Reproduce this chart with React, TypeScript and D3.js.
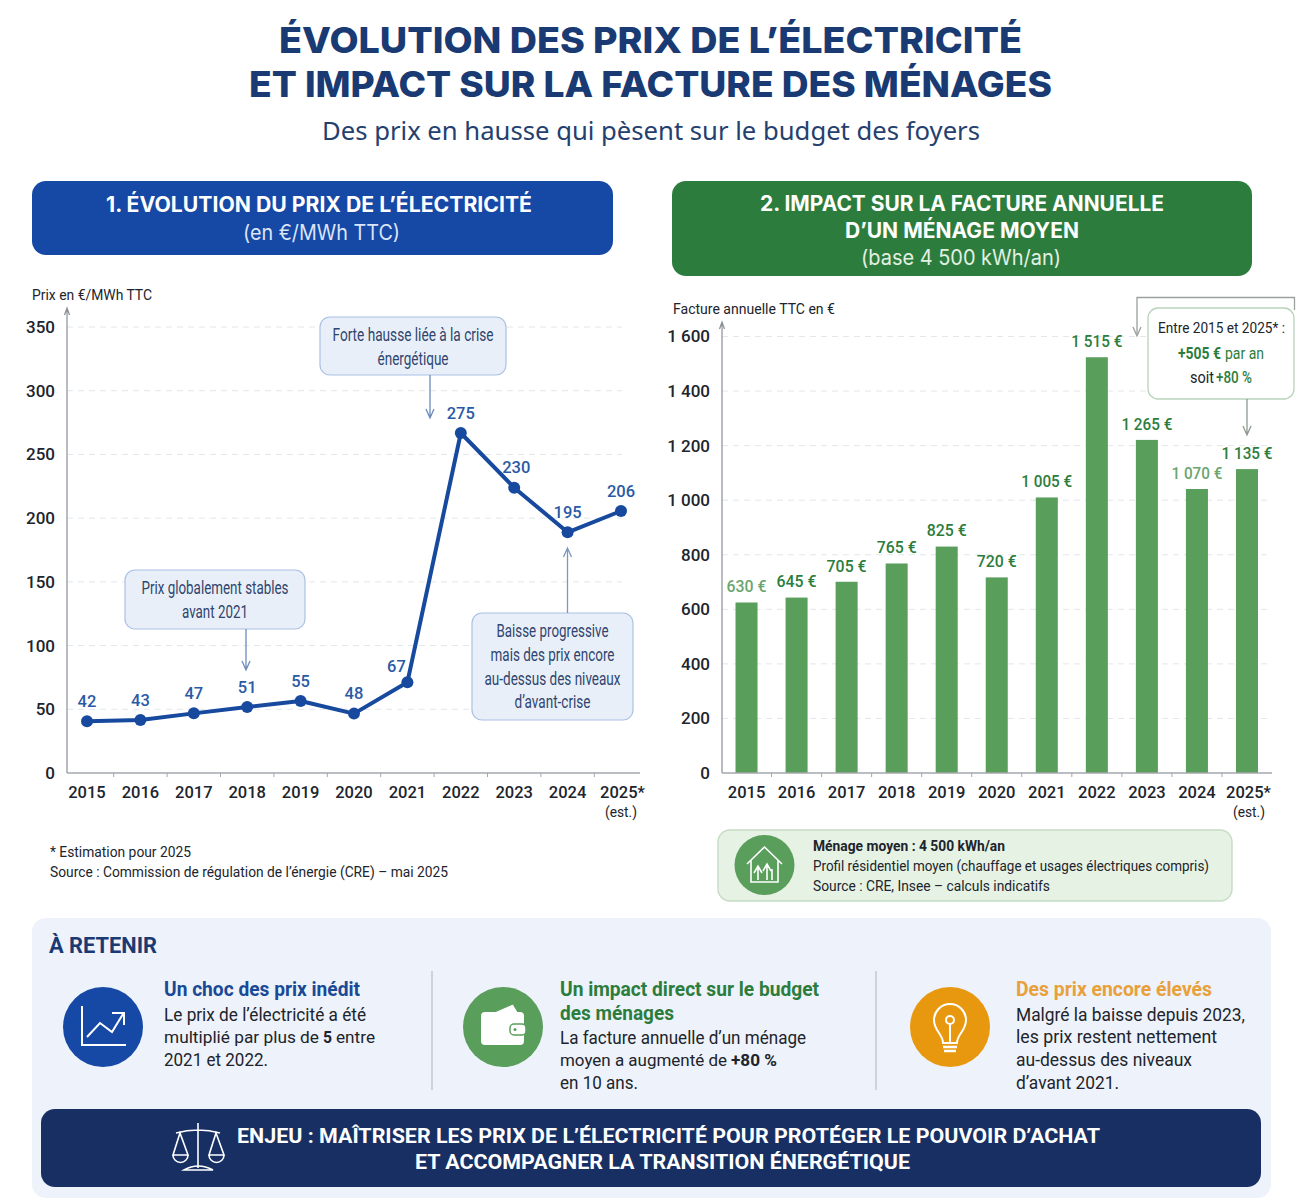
import React, { useEffect, useRef } from "react";
import * as d3 from "d3";

const years = ["2015", "2016", "2017", "2018", "2019", "2020", "2021", "2022", "2023", "2024", "2025*"];
// the marks in the picture do not sit exactly on their printed labels, so both are kept
const priceValues = [40.6, 41.6, 46.8, 51.8, 56.5, 46.6, 71.2, 266.8, 223.9, 188.9, 205.6];
const priceLabels = ["42", "43", "47", "51", "55", "48", "67", "275", "230", "195", "206"];
const priceTicks = [0, 50, 100, 150, 200, 250, 300, 350];
const billValues = [625, 643, 701, 768, 830, 717, 1010, 1524, 1221, 1041, 1114];
const billLabels = ["630 €", "645 €", "705 €", "765 €", "825 €", "720 €", "1 005 €", "1 515 €", "1 265 €", "1 070 €", "1 135 €"];
const billTicks = [0, 200, 400, 600, 800, 1000, 1200, 1400, 1600];

const NAVY = "#1a3a73";
const BLUE = "#1648a5";
const GREEN = "#2c7d3d";
const BAR = "#5a9e5c";
const LINE = "#174a9e";
const BODY = "#20242c";
const SANS = "Roboto, sans-serif";
const HEAD = "Inter, sans-serif";

// text centred vertically on y, squeezed to the width
function T({ x, y, w, size = 18, fill = BODY, weight = 400, anchor = "start", font = SANS, children }: any) {
  return (
    <text
      x={x}
      y={y}
      dy="0.35em"
      fontSize={size}
      fontFamily={font}
      fontWeight={weight}
      fill={fill}
      textAnchor={anchor}
      textLength={w}
      lengthAdjust={w ? "spacingAndGlyphs" : undefined}
    >
      {children}
    </text>
  );
}

function Arrow({ x, y1, y2, color }: any) {
  const dir = y2 > y1 ? -1 : 1;
  return (
    <path
      d={`M${x},${y1}V${y2}M${x - 4},${y2 + dir * 9}L${x},${y2}L${x + 4},${y2 + dir * 9}`}
      fill="none"
      stroke={color}
      strokeWidth={1.3}
    />
  );
}

function Callout({ x, y, w, h, lines, ys }: any) {
  return (
    <g>
      <rect x={x} y={y} width={w} height={h} rx={10} fill="#e9eff8" stroke="#aac1e4" strokeWidth={1.2} />
      {lines.map((l: any, i: number) => (
        <T key={i} x={x + w / 2} y={ys[i]} w={l[1]} anchor="middle" size={17.5} fill="#2f456e">
          {l[0]}
        </T>
      ))}
    </g>
  );
}

function App() {
  const priceAxis = useRef<any>();
  const billAxis = useRef<any>();
  const priceBottom = useRef<any>();
  const billBottom = useRef<any>();

  const xPrice = d3.scalePoint<string>().domain(years).range([87, 621]);
  const yPrice = d3.scaleLinear().domain([0, 350]).range([773, 327]);
  const xBill = d3.scaleBand<string>().domain(years).range([721.5, 1272]).paddingInner(0.56).paddingOuter(0.28);
  const yBill = d3.scaleLinear().domain([0, 1600]).range([773, 336.5]);

  const line = d3
    .line<number>()
    .x((_, i) => xPrice(years[i]) as number)
    .y((v) => yPrice(v));

  useEffect(() => {
    const styleAxis = (g: any) => {
      g.select(".domain").remove();
      g.selectAll("text").attr("font-family", SANS).attr("font-size", 17).attr("font-weight", 500).attr("fill", BODY);
    };
    d3.select(priceAxis.current)
      .call(d3.axisLeft(yPrice).tickValues(priceTicks).tickSize(0).tickPadding(12) as any)
      .call(styleAxis);
    d3.select(billAxis.current)
      .call(
        d3
          .axisLeft(yBill)
          .tickValues(billTicks)
          .tickSize(0)
          .tickPadding(12)
          .tickFormat((d: any) => (d >= 1000 ? `${Math.floor(d / 1000)} ${String(d % 1000).padStart(3, "0")}` : `${d}`)) as any
      )
      .call(styleAxis);
    const bottom = (ref: any, centers: (y: string) => number) => {
      const g = d3.select(ref);
      g.selectAll("*").remove();
      g.selectAll("text")
        .data(years)
        .join("text")
        .attr("x", (d) => centers(d) + (d === "2025*" ? 1.5 : 0))
        .attr("y", 0)
        .attr("dy", "0.35em")
        .attr("text-anchor", "middle")
        .attr("font-family", SANS)
        .attr("font-size", 16.5)
        .attr("font-weight", 500)
        .attr("fill", BODY)
        .text((d) => d);
    };
    bottom(priceBottom.current, (d) => xPrice(d) as number);
    bottom(billBottom.current, (d) => (xBill(d) as number) + xBill.bandwidth() / 2);
  }, []);

  const priceStep = xPrice.step();
  const billStep = xBill.step();

  return (
    <svg width={1306} height={1204} style={{ position: "absolute", left: 0, top: 0, display: "block", background: "#fff" }}>
      {/* titre */}
      <T x={650.5} y={40} w={743} anchor="middle" size={36} weight={800} fill={NAVY} font={HEAD}>ÉVOLUTION DES PRIX DE L’ÉLECTRICITÉ</T>
      <T x={650.5} y={84.5} w={803} anchor="middle" size={36} weight={800} fill={NAVY} font={HEAD}>ET IMPACT SUR LA FACTURE DES MÉNAGES</T>
      <T x={651} y={131} w={658} anchor="middle" size={26} fill="#24406f" font="'Noto Sans', sans-serif">Des prix en hausse qui pèsent sur le budget des foyers</T>

      {/* en-têtes */}
      <rect x={32} y={181} width={581} height={74} rx={14} fill={BLUE} />
      <T x={319} y={205} w={426} anchor="middle" size={21} weight={700} fill="#fff" font={HEAD}>1. ÉVOLUTION DU PRIX DE L’ÉLECTRICITÉ</T>
      <T x={321.5} y={233} w={157} anchor="middle" size={21} fill="#dbe5f8" font={HEAD}>(en €/MWh TTC)</T>
      <rect x={672} y={181} width={580} height={95} rx={14} fill={GREEN} />
      <T x={962} y={204} w={404} anchor="middle" size={21} weight={700} fill="#fff" font={HEAD}>2. IMPACT SUR LA FACTURE ANNUELLE</T>
      <T x={962} y={231} w={234} anchor="middle" size={21} weight={700} fill="#fff" font={HEAD}>D’UN MÉNAGE MOYEN</T>
      <T x={961} y={258} w={200} anchor="middle" size={21} fill="#e2f0e2" font={HEAD}>(base 4 500 kWh/an)</T>

      {/* graphique 1 */}
      <T x={32} y={295} w={120} size={15}>Prix en €/MWh TTC</T>
      {priceTicks.slice(1).map((t) => (
        <line key={t} x1={67} x2={622} y1={yPrice(t)} y2={yPrice(t)} stroke="#e3e6ea" strokeDasharray="6 5" />
      ))}
      <path d="M67,773V309M64.5,315L67,308L69.5,315" fill="none" stroke="#8a8f96" strokeWidth={1.2} />
      <path d="M67,773H640" stroke="#a3a7ad" strokeWidth={1.4} />
      {years.slice(0, -1).map((y) => (
        <line key={y} x1={(xPrice(y) as number) + priceStep / 2} x2={(xPrice(y) as number) + priceStep / 2} y1={773} y2={777} stroke="#a3a7ad" />
      ))}
      <g ref={priceAxis} transform="translate(67,0)" />
      <g ref={priceBottom} transform="translate(0,792)" />
      <T x={621} y={812} w={32} anchor="middle" size={15}>(est.)</T>

      <path d={line(priceValues) as string} fill="none" stroke={LINE} strokeWidth={4} strokeLinejoin="round" />
      {priceValues.map((v, i) => (
        <circle key={i} cx={xPrice(years[i])} cy={yPrice(v)} r={6} fill={LINE} />
      ))}
      {priceLabels.map((l, i) => (
        <T
          key={i}
          x={(xPrice(years[i]) as number) + (l === "67" ? -11 : l === "230" ? 2 : 0)}
          y={yPrice(priceValues[i]) + (l === "67" ? -16 : -20)}
          anchor="middle"
          size={16.5}
          weight={500}
          fill="#2a5aa5"
        >
          {l}
        </T>
      ))}

      <Callout x={320} y={317} w={186} h={58} ys={[335, 359]} lines={[["Forte hausse liée à la crise", 161], ["énergétique", 71]]} />
      <Arrow x={430} y1={375} y2={418} color="#6c8bbb" />
      <Callout x={125} y={570} w={180} h={59} ys={[588, 612]} lines={[["Prix globalement stables", 147], ["avant 2021", 66]]} />
      <Arrow x={246} y1={629} y2={670} color="#6c8bbb" />
      <Callout x={472} y={613} w={161} h={107} ys={[631, 655, 679, 702]} lines={[["Baisse progressive", 112], ["mais des prix encore", 124], ["au-dessus des niveaux", 136], ["d’avant-crise", 76]]} />
      <Arrow x={567.5} y1={613} y2={548} color="#7e97bd" />

      <T x={50} y={852} w={141} size={15}>* Estimation pour 2025</T>
      <T x={50} y={872} w={398} size={15}>Source : Commission de régulation de l’énergie (CRE) – mai 2025</T>

      {/* graphique 2 */}
      <T x={673} y={309} w={162} size={15}>Facture annuelle TTC en €</T>
      {billTicks.slice(1).map((t) => (
        <line key={t} x1={722} x2={1272} y1={yBill(t)} y2={yBill(t)} stroke="#e3e6ea" strokeDasharray="6 5" />
      ))}
      <path d="M722,773V323M719.5,329L722,322L724.5,329" fill="none" stroke="#8a8f96" strokeWidth={1.2} />
      <g ref={billAxis} transform="translate(722,0)" />
      {billValues.map((v, i) => (
        <rect key={i} x={xBill(years[i])} y={yBill(v)} width={xBill.bandwidth()} height={yBill(0) - yBill(v)} fill={BAR} />
      ))}
      <path d="M722,773H1272" stroke="#a3a7ad" strokeWidth={1.4} />
      {years.slice(0, -1).map((y) => {
        const tx = (xBill(y) as number) + xBill.bandwidth() / 2 + billStep / 2;
        return <line key={y} x1={tx} x2={tx} y1={773} y2={777} stroke="#a3a7ad" />;
      })}
      {billLabels.map((l, i) => (
        <T
          key={i}
          x={(xBill(years[i]) as number) + xBill.bandwidth() / 2}
          y={yBill(billValues[i]) - 16}
          anchor="middle"
          size={16.5}
          weight={500}
          fill={i === 0 || i === 9 ? "#6aa56f" : GREEN}
          w={l.length > 5 ? 51 : 40}
        >
          {l}
        </T>
      ))}
      <g ref={billBottom} transform="translate(0,792)" />
      <T x={1249} y={812} w={32} anchor="middle" size={15}>(est.)</T>

      <path d="M1137,334V297.5H1294.5V310" fill="none" stroke="#9aa09c" strokeWidth={1.3} />
      <path d="M1133,327L1137,336L1141,327" fill="none" stroke="#9aa09c" strokeWidth={1.3} />
      <rect x={1148} y={308} width={146} height={91} rx={10} fill="#fff" stroke="#b8d3ba" strokeWidth={1.3} />
      <T x={1221.5} y={328} w={127} anchor="middle" size={15.5}>Entre 2015 et 2025* :</T>
      <T x={1178} y={353} w={43} size={16} weight={700} fill={GREEN}>+505 €</T>
      <T x={1225} y={353} w={39} size={16} fill={GREEN}>par an</T>
      <T x={1190} y={377} w={24} size={16}>soit</T>
      <T x={1216} y={377} w={36} size={16} weight={500} fill={GREEN}>+80 %</T>
      <Arrow x={1247} y1={399} y2={435} color="#8d9a90" />

      {/* note ménage */}
      <rect x={718} y={830} width={514} height={71} rx={12} fill="#e6f2e4" stroke="#c5dcc3" strokeWidth={1.4} />
      <circle cx={764.5} cy={865} r={30} fill={BAR} />
      <g fill="none" stroke="#fff" strokeWidth={1.6}>
        <path d="M747,864L764.5,847L782,864M751,860V882H778V860" />
        <path d="M758,880V868M754,873L758,866L762,873M767,880V866M763,871L767,864L771,871M772,880V869" />
      </g>
      <T x={813} y={846} w={192} size={15} weight={700}>Ménage moyen : 4 500 kWh/an</T>
      <T x={813} y={866} w={396} size={15}>Profil résidentiel moyen (chauffage et usages électriques compris)</T>
      <T x={813} y={886} w={237} size={15}>Source : CRE, Insee – calculs indicatifs</T>

      {/* à retenir */}
      <rect x={32} y={918} width={1239} height={280} rx={14} fill="#eef2fa" />
      <T x={49} y={945} w={108} size={22} weight={700} fill={NAVY}>À RETENIR</T>
      <line x1={432} x2={432} y1={971} y2={1090} stroke="#b6bec9" strokeWidth={1.2} />
      <line x1={876} x2={876} y1={971} y2={1090} stroke="#b6bec9" strokeWidth={1.2} />

      <circle cx={103} cy={1027} r={40} fill={BLUE} />
      <g fill="none" stroke="#fff" strokeWidth={2}>
        <path d="M82,1006V1045H126" />
        <path d="M87,1037L100,1023L112,1032L123,1014M112,1013H124V1025" />
      </g>
      <T x={164} y={989} w={196} size={20} weight={700} fill="#1a4a96">Un choc des prix inédit</T>
      <T x={164} y={1015} w={202} size={18.5}>Le prix de l’électricité a été</T>
      <T x={164} y={1037} w={155} size={17}>multiplié par plus de</T>
      <T x={323} y={1037} w={9} size={17} weight={700}>5</T>
      <T x={336} y={1037} w={39} size={17}>entre</T>
      <T x={164} y={1060} w={104} size={18.5}>2021 et 2022.</T>

      <circle cx={503} cy={1027} r={40} fill={BAR} />
      <path d="M490,1014L513,1004L519,1014Z" fill="#fff" stroke={BAR} strokeWidth={1} />
      <rect x={481} y={1012} width={43} height={33} rx={4} fill="#fff" />
      <rect x={510} y={1024} width={16} height={11} rx={4} fill="#fff" stroke={BAR} strokeWidth={1.5} />
      <circle cx={515} cy={1029.5} r={1.5} fill={BAR} />
      <T x={560} y={989} w={259} size={20} weight={700} fill={GREEN}>Un impact direct sur le budget</T>
      <T x={560} y={1013} w={114} size={20} weight={700} fill={GREEN}>des ménages</T>
      <T x={560} y={1038} w={246} size={18.5}>La facture annuelle d’un ménage</T>
      <T x={560} y={1060} w={167} size={17}>moyen a augmenté de</T>
      <T x={731} y={1060} w={46} size={17} weight={700}>+80 %</T>
      <T x={560} y={1083} w={78} size={18.5}>en 10 ans.</T>

      <circle cx={950} cy={1027} r={40} fill="#e8980f" />
      <g fill="none" stroke="#fff" strokeWidth={2}>
        <path d="M943,1043C943,1034 934,1031 934,1020A16,16 0 0 1 966,1020C966,1031 957,1034 957,1043Z" />
        <path d="M950,1043V1024M946,1020A4,4 0 1 1 954,1020A4,4 0 1 1 946,1020" />
        <path d="M943,1047H957M944,1051H956" strokeWidth={2.4} />
      </g>
      <T x={1016} y={989} w={196} size={20} weight={700} fill="#e8a13a">Des prix encore élevés</T>
      <T x={1016} y={1015} w={229} size={18.5}>Malgré la baisse depuis 2023,</T>
      <T x={1016} y={1037} w={201} size={18.5}>les prix restent nettement</T>
      <T x={1016} y={1060} w={176} size={18.5}>au-dessus des niveaux</T>
      <T x={1016} y={1083} w={103} size={18.5}>d’avant 2021.</T>

      {/* enjeu */}
      <rect x={41} y={1109} width={1220} height={78} rx={14} fill="#172f63" />
      <g fill="none" stroke="#fff" strokeWidth={1.6}>
        <path d="M198,1123V1168M176,1133Q198,1127 220,1133" />
        <path d="M180,1133L173,1155H188ZM216,1133L209,1155H224Z" />
        <path d="M173,1155A7.5,7.5 0 0 0 188,1155M209,1155A7.5,7.5 0 0 0 224,1155" />
        <path d="M184,1170Q198,1162 213,1170Z" />
      </g>
      <T x={668.5} y={1136} w={863} anchor="middle" size={21} weight={700} fill="#fff" font={SANS}>ENJEU : MAÎTRISER LES PRIX DE L’ÉLECTRICITÉ POUR PROTÉGER LE POUVOIR D’ACHAT</T>
      <T x={662.5} y={1162} w={495} anchor="middle" size={21} weight={700} fill="#fff" font={SANS}>ET ACCOMPAGNER LA TRANSITION ÉNERGÉTIQUE</T>
    </svg>
  );
}

export default App;
